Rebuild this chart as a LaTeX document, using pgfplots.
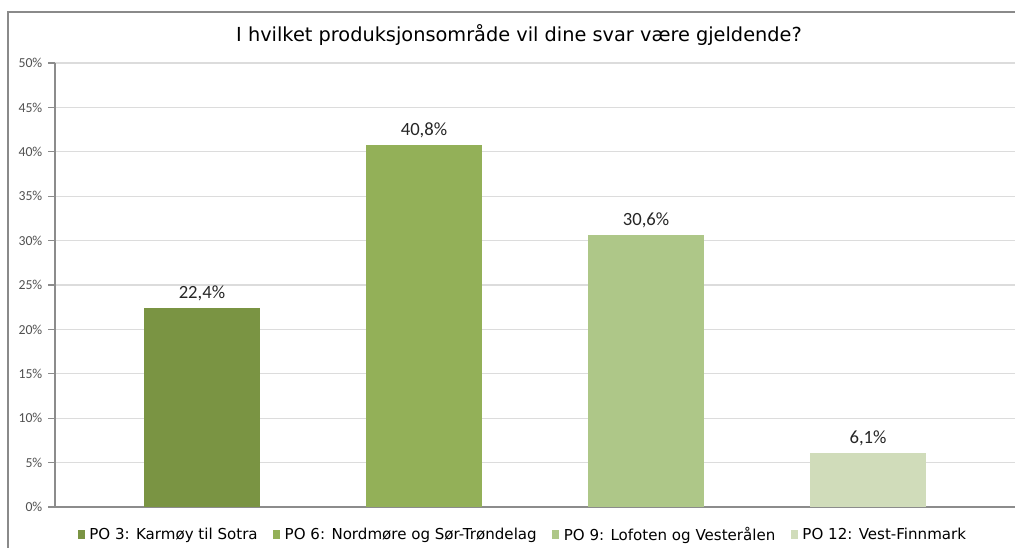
\documentclass[border=0pt]{standalone}
\usepackage{pgfplots}
\pgfplotsset{compat=1.18}
\usepackage{fontspec}
\setmainfont{DejaVu Sans}
\newfontfamily\carlito{Carlito}
\definecolor{c1}{HTML}{7A9443}
\definecolor{c2}{HTML}{93B058}
\definecolor{c3}{HTML}{AEC788}
\definecolor{c4}{HTML}{D0DCBA}
\definecolor{gridgray}{HTML}{DCDCDC}
\definecolor{axisgray}{HTML}{8C8C8C}
\definecolor{bordergray}{HTML}{8A8A8A}
\definecolor{tickgray}{HTML}{505050}
\definecolor{labelgray}{HTML}{262626}
\begin{document}
\begin{tikzpicture}
\begin{axis}[
  scale only axis,
  width=720pt, height=333pt,
  xmin=-0.662, xmax=3.662, ymin=0, ymax=50,
  ybar, bar width=0.523, bar shift=0pt,
  /pgf/number format/assume math mode=true,
  ytick={0,5,...,50},
  yticklabel={\pgfmathprintnumber{\tick}\%},
  xtick=\empty,
  ymajorgrids, grid style={draw=gridgray, line width=0.8pt},
  axis x line*=bottom, axis y line*=left,
  x axis line style={draw=axisgray, line width=0.8pt},
  y axis line style={draw=axisgray, line width=0.8pt},
  tick align=outside, major tick length=5pt,
  ytick style={draw=axisgray, line width=0.8pt},
  yticklabel style={font=\carlito\fontsize{10.3}{11}\selectfont, text=tickgray, xshift=-1pt},
  point meta=y,
  nodes near coords={\pgfmathprintnumber[fixed,fixed zerofill,precision=1,use comma]{\pgfplotspointmeta}\%},
  nodes near coords style={font=\carlito\fontsize{14}{16}\selectfont, text=labelgray, inner sep=5pt},
  legend columns=4,
  legend style={at={(0.487,-0.062)}, anchor=center, draw=none, fill=none,
    font=\fontsize{11.3}{13}\selectfont, text=black, inner sep=0pt,
    nodes={inner sep=1pt},
    /tikz/every odd column/.append style={column sep=2.5pt},
    /tikz/every even column/.append style={column sep=10.5pt}},
  legend image code/.code={\fill[#1] (0pt,-3.6pt) rectangle (5.3pt,3.4pt);},
  every axis plot/.append style={draw=none},
]
\addplot[fill=c1] coordinates {(0,22.4)};
\addplot[fill=c2] coordinates {(1,40.8)};
\addplot[fill=c3] coordinates {(2,30.6)};
\addplot[fill=c4] coordinates {(3,6.1)};
\legend{PO 3: Karmøy til Sotra, PO 6: Nordmøre og Sør-Trøndelag, PO 9: Lofoten og Vesterålen, PO 12: Vest-Finnmark}
\coordinate (O) at (rel axis cs:0,0);
\end{axis}
\pgfresetboundingbox
\begin{scope}[shift={(O)}, x=0.75pt, y=0.75pt]
\useasboundingbox (-55,-40) rectangle (960,507);
\draw[color=bordergray, line width=0.9pt] (-47,-60) -- (-47,495) -- (980,495);
\node[font=\fontsize{14.5}{17}\selectfont, text=black] at (464,472) {I hvilket produksjonsområde vil dine svar være gjeldende?};
\end{scope}
\end{tikzpicture}
\end{document}
